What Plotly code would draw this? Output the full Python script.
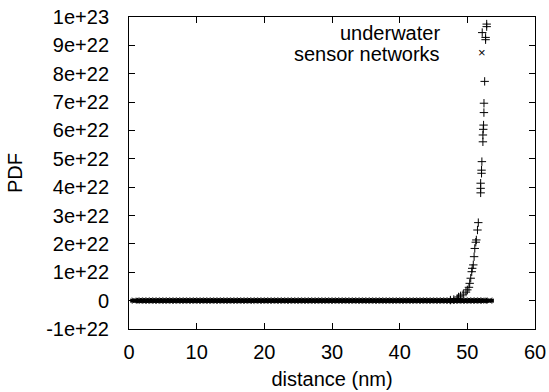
import plotly.graph_objects as go

# Near-zero PDF samples (distance in nm)
zero_x = [0.9, 1.5, 2.0, 2.5, 3.0, 3.5, 4.0, 4.5, 5.0, 5.5, 6.0, 6.5, 7.0, 7.5, 8.0, 8.5,
          9.0, 9.5, 10.0, 10.5, 11.0, 11.5, 12.0, 12.5, 13.0, 13.5, 14.0, 14.5, 15.0, 15.5,
          16.0, 16.5, 17.0, 17.5, 18.0, 18.5, 19.0, 19.5, 20.0, 20.5, 21.0, 21.5, 22.0, 22.5,
          23.0, 23.5, 24.0, 24.5, 25.0, 25.5, 26.0, 26.5, 27.0, 27.5, 28.0, 28.5, 29.0, 29.5,
          30.0, 30.5, 31.0, 31.5, 32.0, 32.5, 33.0, 33.5, 34.0, 34.5, 35.0, 35.5, 36.0, 36.5,
          37.0, 37.5, 38.0, 38.5, 39.0, 39.5, 40.0, 40.5, 41.0, 41.5, 42.0, 42.5, 43.0, 43.5,
          44.0, 44.5, 45.0, 45.5, 46.0, 46.5, 47.0, 47.5, 48.0, 48.5, 49.0, 49.5, 50.0, 50.5,
          51.0, 51.5, 52.0, 52.5, 53.2]
zero_y = [0.0] * len(zero_x)

# Rising tail of the PDF (x in nm, y in units of 1e22)
tail_x = [47.5, 48.0, 48.5, 48.7, 49.0, 49.4, 49.8, 50.0, 50.24, 50.35, 50.5, 50.65, 50.72,
          50.88, 51.0, 51.1, 51.25, 51.33, 51.5, 51.62, 51.97, 51.97, 51.97, 52.1, 52.1,
          52.15, 52.3, 52.3, 52.35, 52.4, 52.45, 52.46, 52.56, 52.7, 52.7, 52.2, 52.86, 52.86]
tail_y_e22 = [0.02, 0.04, 0.08, 0.13, 0.17, 0.23, 0.30, 0.38, 0.47, 0.61, 0.79, 1.02, 1.14,
              1.26, 1.55, 1.84, 2.06, 2.14, 2.49, 2.75, 3.80, 3.96, 4.14, 4.49, 4.60,
              4.90, 5.60, 5.84, 6.04, 6.19, 6.63, 6.96, 7.73, 9.20, 9.28, 9.45, 9.66, 9.75]
tail_y = [v * 1e22 for v in tail_y_e22]

y_tickvals = [-1e22, 0, 1e22, 2e22, 3e22, 4e22, 5e22, 6e22, 7e22, 8e22, 9e22, 1e23]
y_ticktext = ["-1e+22", "0", "1e+22", "2e+22", "3e+22", "4e+22", "5e+22", "6e+22",
              "7e+22", "8e+22", "9e+22", "1e+23"]
x_tickvals = [0, 10, 20, 30, 40, 50, 60]

legend_lines = ["underwater", "sensor networks"]

FONT = "Liberation Sans, Arial, sans-serif"
FS = 20

fig = go.Figure()
fig.add_trace(go.Scatter(
    x=zero_x, y=zero_y, mode="markers", showlegend=False,
    marker=dict(symbol="x-thin", size=6, line=dict(color="black", width=1), color="black"),
))
fig.add_trace(go.Scatter(
    x=zero_x, y=zero_y, mode="markers", showlegend=False,
    marker=dict(symbol="line-ew", size=7, line=dict(color="black", width=4), color="black"),
))
fig.add_trace(go.Scatter(
    x=tail_x, y=tail_y, mode="markers", showlegend=False,
    marker=dict(symbol="cross-thin", size=6, line=dict(color="black", width=1), color="black"),
))

axis_common = dict(
    showline=True, linecolor="black", linewidth=1, mirror="allticks",
    ticks="inside", ticklen=6, tickcolor="black", showgrid=False, zeroline=False,
    automargin=False,
    tickfont=dict(family=FONT, size=FS, color="black"),
)

fig.update_layout(
    width=549, height=392,
    margin=dict(l=129, r=14, t=17, b=63),
    paper_bgcolor="white", plot_bgcolor="white",
    font=dict(family=FONT, size=FS, color="black"),
    showlegend=False,
    xaxis=dict(range=[0, 60], tickvals=x_tickvals, ticklabelstandoff=5,
               title=dict(text="distance (nm)", font=dict(family=FONT, size=FS), standoff=9),
               **axis_common),
    yaxis=dict(range=[-1e22, 1e23], tickvals=y_tickvals, ticktext=y_ticktext,
               ticklabelstandoff=15,
               title=dict(text="PDF", font=dict(family=FONT, size=FS), standoff=18),
               **axis_common),
    annotations=[
        dict(text=legend_lines[0], xref="paper", yref="paper", x=0.771, y=0.949,
             xanchor="right", yanchor="middle", showarrow=False,
             font=dict(family=FONT, size=FS, color="black")),
        dict(text=legend_lines[1], xref="paper", yref="paper", x=0.771, y=0.881,
             xanchor="right", yanchor="middle", showarrow=False,
             font=dict(family=FONT, size=FS, color="black")),
        dict(text="×", xref="paper", yref="paper", x=0.869, y=0.886,
             xanchor="center", yanchor="middle", showarrow=False,
             font=dict(family=FONT, size=13, color="black")),
    ],
)

fig.write_html("out.html")
